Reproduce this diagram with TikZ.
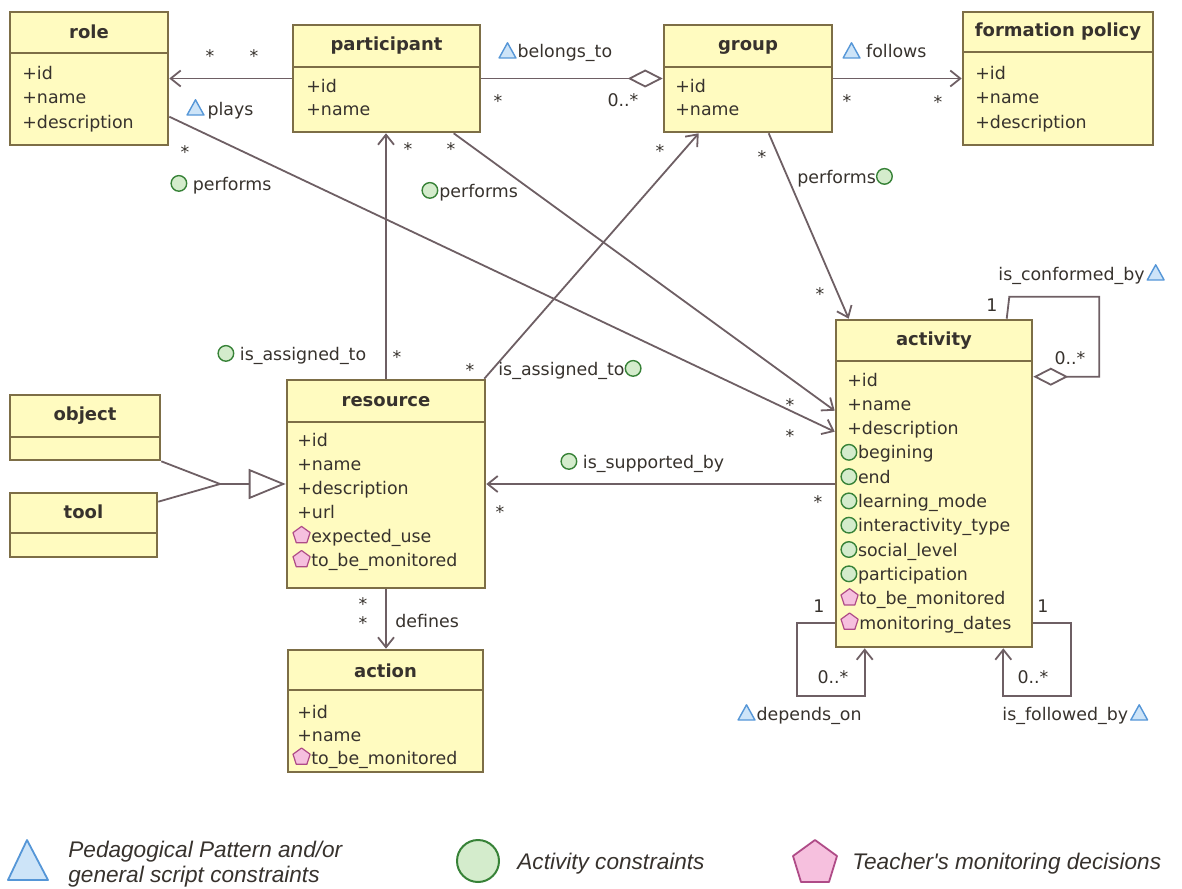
\documentclass[tikz,border=0pt]{standalone}
\usepackage{fontspec}
\setmainfont{DejaVu Sans}
\newfontfamily\legfont{Liberation Sans}
\usetikzlibrary{arrows.meta,fit,calc}
\definecolor{boxfill}{RGB}{255,251,192}
\definecolor{boxdraw}{RGB}{125,110,70}
\definecolor{linec}{RGB}{110,95,100}
\definecolor{txt}{RGB}{55,50,45}
\definecolor{triD}{RGB}{85,150,215}
\definecolor{triF}{RGB}{205,228,248}
\definecolor{cirD}{RGB}{55,130,55}
\definecolor{cirF}{RGB}{212,236,204}
\definecolor{penD}{RGB}{175,75,135}
\definecolor{penF}{RGB}{246,192,222}
\newcommand\ictri{\tikz[baseline=0pt]\draw[draw=triD,fill=triF,line width=0.7pt,line join=round](-4.2pt,0pt)--(4.2pt,0pt)--(0pt,7.6pt)--cycle;}
\newcommand\iccir{\tikz[baseline=0pt]\draw[draw=cirD,fill=cirF,line width=0.7pt](0pt,3.3pt) circle[radius=3.9pt];}
\newcommand\icpen{\tikz[baseline=0pt]\draw[draw=penD,fill=penF,line width=0.6pt,line join=round](0pt,8pt)--(4.28pt,4.89pt)--(2.65pt,-0.14pt)--(-2.65pt,-0.14pt)--(-4.28pt,4.89pt)--cycle;}
\newcommand\umlbox[8]{%
  \node[box, fit={(#2,#3) (#4,#5)}] (#1) {};
  \draw[boxline] (#2,#6) -- (#4,#6);
  \node[hdr] (#1T) at ({(#2+#4)/2},#8) {#7};
}
\tikzset{
  box/.style={draw=boxdraw, line width=1.3pt, fill=boxfill, inner sep=0pt},
  boxline/.style={draw=boxdraw, line width=1.3pt},
  hdr/.style={font=\bfseries\fontsize{9}{11}\selectfont, text=txt, anchor=base, inner sep=0pt},
  att/.style={font=\fontsize{8.7}{11}\selectfont, text=txt, anchor=base west, inner sep=0pt},
  lbl/.style={font=\fontsize{8.7}{11}\selectfont, text=txt, anchor=base west, inner sep=0pt},
  mult/.style={font=\fontsize{8.7}{11}\selectfont, text=txt, inner sep=0pt},
  star/.style={mult, yshift=-1.8pt},
  conn/.style={draw=linec, line width=0.9pt},
  openarr/.style={conn, -{Straight Barb[length=5pt,width=8pt,line width=0.9pt]}},
  aggr/.style={conn, -{Diamond[open,length=17.5pt,width=9pt,line width=0.9pt,fill=white]}},
  aggrstart/.style={conn, {Diamond[open,length=17.5pt,width=9pt,line width=0.9pt,fill=white]}-},
  gen/.style={conn, -{Triangle[open,length=18.5pt,width=15pt,line width=0.9pt,fill=white]}},
  leg/.style={font=\legfont\itshape\fontsize{11.3}{12.5}\selectfont, text=txt, anchor=base west, inner sep=0pt}
}
\begin{document}
\begin{tikzpicture}[x=0.5pt,y=-0.5pt]
\useasboundingbox (0,0) rectangle (1182,888);
% boxes
\umlbox{role}{10}{12}{168}{145}{53}{role}{39}
\umlbox{participant}{293}{25}{480}{132}{67}{participant}{51}
\umlbox{group}{664}{25}{832}{132}{67}{group}{51}
\umlbox{formation}{963}{12}{1153}{145}{52}{formation policy}{37}
\umlbox{activity}{836}{320}{1032}{647}{361}{activity}{345}
\umlbox{resource}{287}{380}{485}{588}{422}{resource}{406}
\umlbox{object}{10}{395}{160}{460}{437}{object}{420}
\umlbox{tool}{10}{493}{157}{557}{533}{tool}{518}
\umlbox{action}{288}{650}{483}{772}{690}{action}{677}
% attributes
\node[att] (r1) at (22,80) {+id};
\node[att] (r2) at (22,104) {+name};
\node[att] (r3) at (22,128) {+description};
\node[att] (p1) at (306,92) {+id};
\node[att] (p2) at (306,116) {+name};
\node[att] (g1) at (675,92) {+id};
\node[att] (g2) at (675,116) {+name};
\node[att] (f1) at (975,80) {+id};
\node[att] (f2) at (975,104) {+name};
\node[att] (f3) at (975,128) {+description};
\foreach \t [count=\i from 0] in {+id,+name,+description}
  \node[att] (a\i) at (847,386+24.3*\i) {\t};
\foreach \t [count=\i from 3] in {begining,end,learning\_mode,interactivity\_type,social\_level,participation}
  \node[att] (a\i) at (840,386+24.3*\i) {\iccir\hspace{0.3pt}\t};
\foreach \t [count=\i from 9] in {to\_be\_monitored,monitoring\_dates}
  \node[att] (a\i) at (840,386+24.3*\i) {\icpen\hspace{0.3pt}\t};
\foreach \t [count=\i from 0] in {+id,+name,+description,+url}
  \node[att] (s\i) at (297,446+24.1*\i) {\t};
\foreach \t [count=\i from 4] in {expected\_use,to\_be\_monitored}
  \node[att] (s\i) at (292,446+24.1*\i) {\icpen\hspace{0.3pt}\t};
\node[att] (c1) at (297,718) {+id};
\node[att] (c2) at (297,741) {+name};
\node[att] (c3) at (292,764) {\icpen\hspace{0.3pt}to\_be\_monitored};
% connectors
\draw[openarr] (participant.west) -- (role.east |- participant.west);
\draw[aggr] (participant.east) -- (group.west);
\draw[openarr] (group.east) -- (formation.west |- group.east);
\draw[openarr] ($(role.north east)+(0,106)$) -- ($(activity.north west)+(0,113)$);
\draw[openarr] ($(participant.south west)+(162,0)$) -- ($(activity.north west)+(0,92)$);
\draw[openarr] (resource.north) -- (resource.north |- participant.south);
\draw[openarr] ($(resource.north east)+(-2,0)$) -- ($(group.south west)+(36,0)$);
\draw[openarr] ($(group.south west)+(106,0)$) -- ($(activity.north west)+(14,0)$);
\draw[openarr] (activity.west |- resource.east) -- (resource.east);
\draw[openarr] (resource.south) -- (resource.south |- action.north);
\coordinate (gj) at (220,484);
\draw[conn] (object.south east) -- (gj);
\draw[conn] ($(tool.north east)+(0,10)$) -- (gj);
\draw[gen] (gj) -- (resource.west |- gj);
\draw[aggrstart] ($(activity.north east)+(0,58)$) -- ++(66,0) -- ++(0,-80) -- ++(-90,0) -- ($(activity.north west)+(172,0)$);
\draw[openarr] ($(activity.south west)+(0,-25)$) -- ++(-38,0) -- ++(0,73) -- ++(68,0) -- ($(activity.south west)+(30,0)$);
\draw[openarr] ($(activity.south east)+(0,-25)$) -- ++(38,0) -- ++(0,73) -- ++(-68,0) -- ($(activity.south east)+(-30,0)$);
% labels
\node[lbl] (lplays) at (186,115) {\ictri\,plays};
\node[lbl] (lperf1) at (170,190) {\iccir\ performs};
\node[lbl] (lperf2) at (421,197) {\iccir\hspace{0.5pt}performs};
\node[lbl] (lbel) at (498,58) {\ictri\hspace{0.5pt}belongs\_to};
\node[lbl] (lfol) at (842,58) {\ictri\ follows};
\node[lbl] (lperf3) at (797,183) {performs\iccir};
\node[lbl] (lass1) at (217,360) {\iccir\ is\_assigned\_to};
\node[lbl] (lass2) at (498,375) {is\_assigned\_to\iccir};
\node[lbl] (lsup) at (560,468) {\iccir\ is\_supported\_by};
\node[lbl] (ldef) at (395,627) {defines};
\node[lbl] (lconf) at (998,280) {is\_conformed\_by\hspace{1pt}\ictri};
\node[lbl] (ldep) at (737,720) {\ictri\hspace{0.5pt}depends\_on};
\node[lbl] (lfolb) at (1002,720) {is\_followed\_by\hspace{1pt}\ictri};
% multiplicities
\node[star] at (210,52) {*};
\node[star] at (254,52) {*};
\node[star] at (498,97) {*};
\node[mult] at (623,100) {0..*};
\node[star] at (847,97) {*};
\node[star] at (938,98) {*};
\node[star] at (185,148) {*};
\node[star] at (408,145) {*};
\node[star] at (451,145) {*};
\node[star] at (660,147) {*};
\node[star] at (762,153) {*};
\node[star] at (820,290) {*};
\node[star] at (397,353) {*};
\node[star] at (470,366) {*};
\node[star] at (790,401) {*};
\node[star] at (790,432) {*};
\node[star] at (500,508) {*};
\node[star] at (818,498) {*};
\node[star] at (363,600) {*};
\node[star] at (363,619) {*};
\node[mult] at (992,305) {1};
\node[mult] at (1070,358) {0..*};
\node[mult] at (819,606) {1};
\node[mult] at (833,677) {0..*};
\node[mult] at (1043,606) {1};
\node[mult] at (1033,677) {0..*};
% legend
\draw[draw=triD, fill=triF, line width=0.9pt, line join=round] (8,880) -- (48,880) -- (27,840) -- cycle;
\draw[draw=cirD, fill=cirF, line width=1pt] (478,861) ellipse [x radius=21, y radius=21];
\draw[draw=penD, fill=penF, line width=0.9pt, line join=round] (815,840) -- (837,856) -- (829,882) -- (801,882) -- (793,856) -- cycle;
\node[leg] (leg1) at (68,857) {Pedagogical Pattern and/or};
\node[leg] (leg2) at (68,882) {general script constraints};
\node[leg] (leg3) at (517,869) {Activity constraints};
\node[leg] (leg4) at (852,869) {Teacher's monitoring decisions};
\end{tikzpicture}
\end{document}
